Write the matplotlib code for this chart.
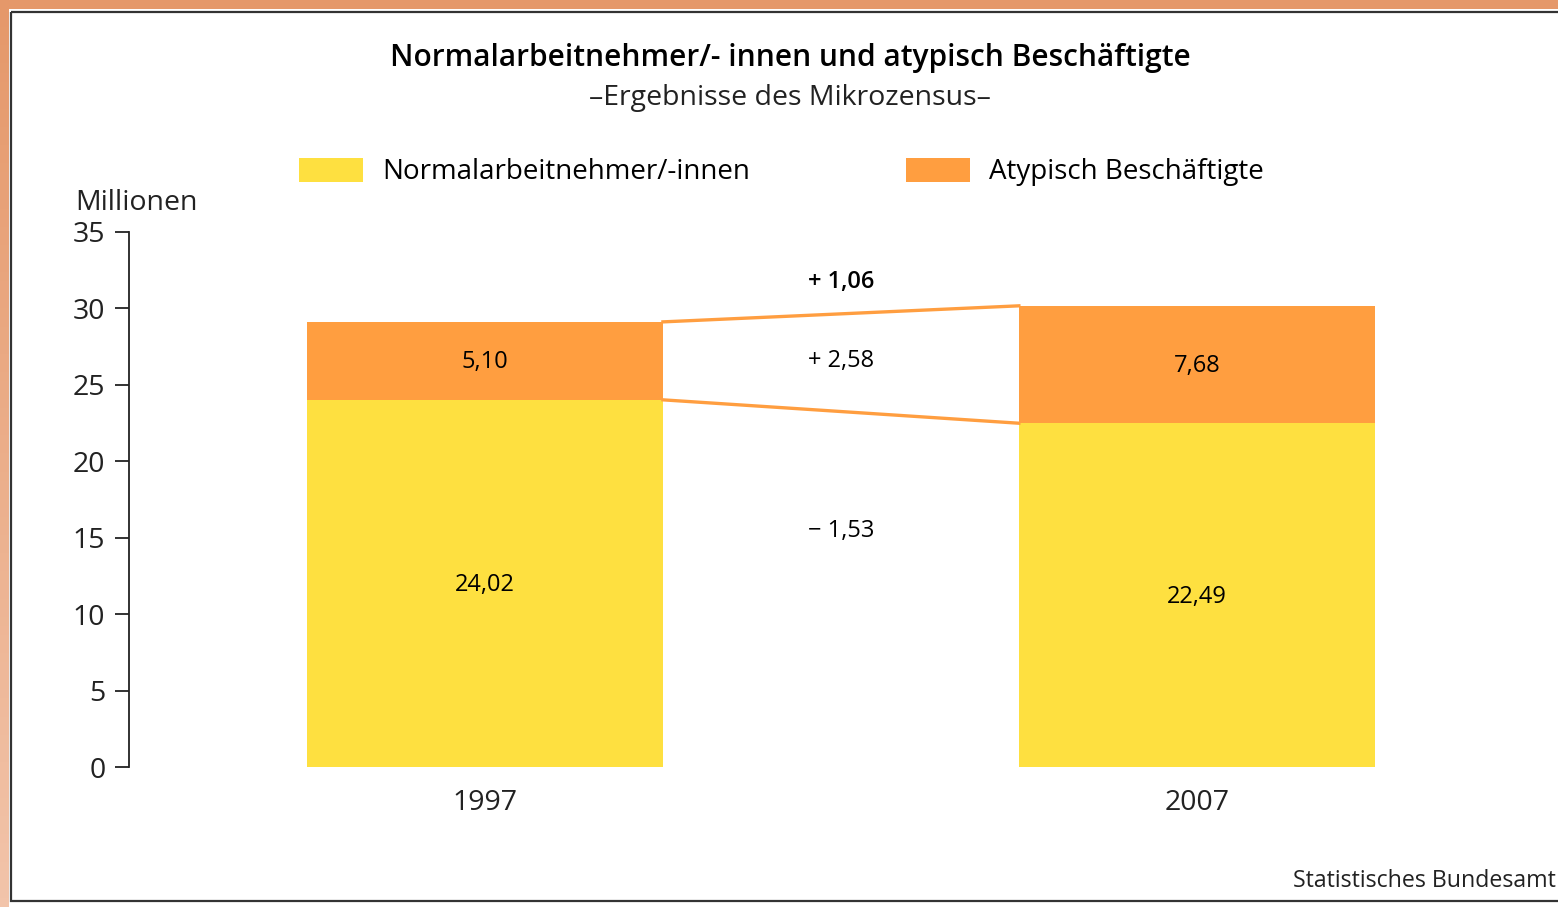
import numpy as np
import matplotlib.pyplot as plt
from matplotlib.patches import Rectangle

# Daten (Millionen)
jahre = ["1997", "2007"]
normal = [24.02, 22.49]
atypisch = [5.10, 7.68]
normal_labels = ["24,02", "22,49"]
atypisch_labels = ["5,10", "7,68"]
diff_labels = ["+ 1,06", "+ 2,58", "\u2212 1,53"]

gelb = "#FEE040"
orange = "#FF9E40"
plt.rcParams["font.family"] = ["Open Sans", "DejaVu Sans"]

fig = plt.figure(figsize=(15.58, 9.07), dpi=100)

# Hintergrund: orange Rand oben und links, schwarzer Rahmen
bg = fig.add_axes([0, 0, 1, 1], zorder=-5)
bg.set_xlim(0, 1558)
bg.set_ylim(907, 0)
bg.axis("off")
grad = np.linspace(0, 1, 100).reshape(-1, 1)
c_top = np.array([229, 152, 106]) / 255
c_bot = np.array([242, 196, 170]) / 255
img = c_top + grad[..., None] * (c_bot - c_top)
bg.imshow(img, extent=(0, 9, 907, 0), aspect="auto")
bg.add_patch(Rectangle((0, 0), 1558, 9, color=c_top, lw=0))
bg.add_patch(Rectangle((11.5, 11.5), 1560, 889, fill=False, ec="#333333", lw=1.6))

ax = fig.add_axes([129 / 1558, 140 / 907, (1530 - 129) / 1558, 535 / 907])
x = np.arange(len(jahre))
breite = 0.5
ax.bar(x, normal, breite, color=gelb, label="Normalarbeitnehmer/-innen")
ax.bar(x, atypisch, breite, bottom=normal, color=orange, label="Atypisch Beschäftigte")

gesamt = [n + a for n, a in zip(normal, atypisch)]
ax.plot([x[0] + breite / 2, x[1] - breite / 2], gesamt, color=orange, lw=2.4)
ax.plot([x[0] + breite / 2, x[1] - breite / 2], normal, color=orange, lw=2.4)

for i in range(len(jahre)):
    ax.text(x[i], normal[i] / 2 - 0.1, normal_labels[i], ha="center", va="center", fontsize=17)
    ax.text(x[i], normal[i] + atypisch[i] / 2 - 0.1, atypisch_labels[i], ha="center", va="center", fontsize=17)

mitte = (x[0] + x[1]) / 2
ax.text(mitte, max(gesamt) + 1.55, diff_labels[0], ha="center", va="center", fontsize=17, fontweight="semibold")
ax.text(mitte, 26.55, diff_labels[1], ha="center", va="center", fontsize=17)
ax.text(mitte, 15.45, diff_labels[2], ha="center", va="center", fontsize=17)

ax.set_xlim(-0.5, 1.468)
ax.set_ylim(0, 35)
ax.set_yticks(range(0, 36, 5))
ax.set_xticks(x)
ax.set_xticklabels(jahre)
ax.tick_params(axis="y", length=10, width=1.3, labelsize=20.5, colors="#222222", pad=7)
ax.tick_params(axis="x", length=0, labelsize=20.5, colors="#222222", pad=16)
for s in ["top", "right", "bottom"]:
    ax.spines[s].set_visible(False)
ax.spines["left"].set_linewidth(1.3)
ax.spines["left"].set_color("#222222")

fig.text(75 / 1558, 1 - 203 / 907, "Millionen", ha="left", va="center", fontsize=20.5, color="#222222")

fig.text(790 / 1558, 1 - 58 / 907, "Normalarbeitnehmer/- innen und atypisch Beschäftigte",
         ha="center", va="center", fontsize=21.5, fontweight="semibold")
fig.text(790 / 1558, 1 - 98 / 907, "\u2013Ergebnisse des Mikrozensus\u2013",
         ha="center", va="center", fontsize=20.5, color="#222222")

fig.legend(loc="center left", bbox_to_anchor=(299 / 1558, 1 - 172 / 907), ncol=2,
           frameon=False, fontsize=20, handlelength=2.3, handleheight=1.0,
           columnspacing=5.6, handletextpad=0.7, borderaxespad=0, borderpad=0)

fig.text(1556 / 1558, 1 - 881 / 907, "Statistisches Bundesamt", ha="right", va="center",
         fontsize=16.7, color="#222222")

fig.savefig("out.png", dpi=100)
